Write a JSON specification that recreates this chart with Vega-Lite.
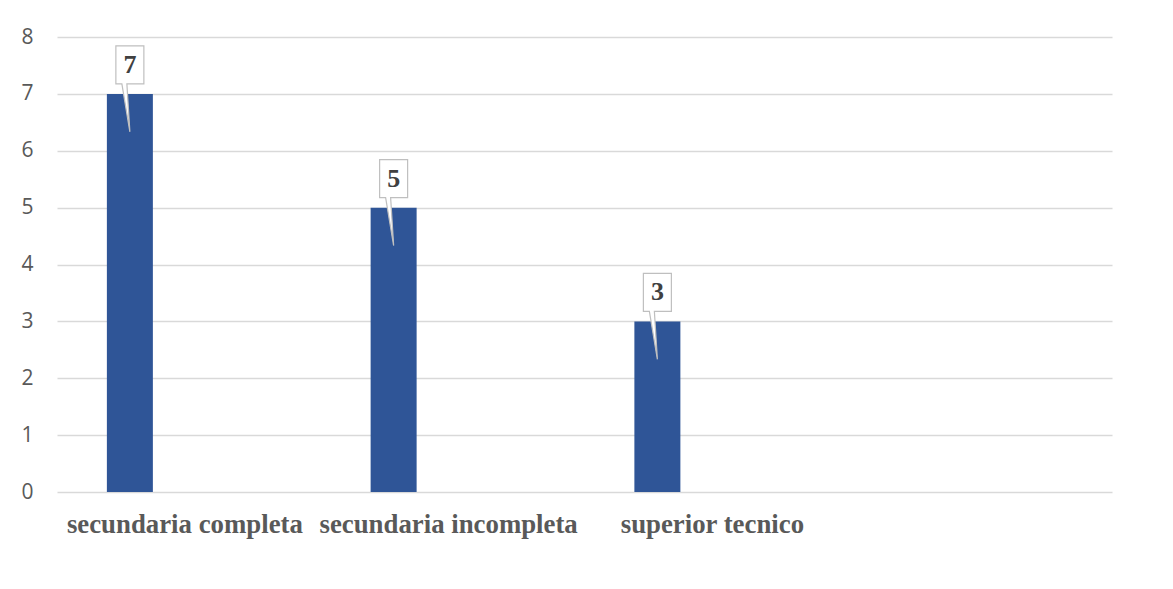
{
  "$schema": "https://vega.github.io/schema/vega-lite/v6.json",
  "autosize": "none",
  "width": 1055,
  "height": 455,
  "padding": {"left": 57, "top": 37, "right": 61, "bottom": 97},
  "background": "white",
  "config": {"view": {"stroke": null}},
  "data": {"values": [
    {"categoria": "secundaria completa", "valor": 7},
    {"categoria": "secundaria incompleta", "valor": 5},
    {"categoria": "superior tecnico", "valor": 3}
  ]},
  "encoding": {
    "x": {"field": "categoria", "type": "nominal", "sort": null,
      "scale": {"domain": ["secundaria completa", "secundaria incompleta", "superior tecnico", " "], "paddingInner": 0, "paddingOuter": 0},
      "axis": {"title": null, "labelAngle": 0, "domain": false, "ticks": false, "grid": false,
        "labelFont": "Liberation Serif", "labelFontWeight": "bold", "labelFontSize": 26.8, "labelColor": "#595959", "labelPadding": 19, "labelOffset": -4, "labelLimit": 400}},
    "y": {"field": "valor", "type": "quantitative",
      "scale": {"domain": [0, 8], "nice": false},
      "axis": {"title": null, "values": [0,1,2,3,4,5,6,7,8], "labelOverlap": false, "domain": false, "ticks": false,
        "grid": true, "gridColor": "#d9d9d9", "gridWidth": 1.5,
        "labelFont": "Open Sans", "labelFontSize": 21, "labelColor": "#595959", "labelPadding": 24}}
  },
  "layer": [
    {"mark": {"type": "bar", "width": 46, "xOffset": -59, "color": "#2f5597"}},
    {"mark": {"type": "point", "filled": true, "size": 4, "xOffset": -59, "fill": "white", "fillOpacity": 1, "stroke": "#bfbfbf", "strokeWidth": 1.2, "opacity": 1,
      "shape": "M-14,-48H14V-10H-3L0,38L-8,-10H-14Z"}},
    {"mark": {"type": "text", "xOffset": -59, "dy": -29, "baseline": "middle", "font": "Liberation Serif", "fontWeight": "bold", "fontSize": 26, "color": "#404040"},
      "encoding": {"text": {"field": "valor", "type": "quantitative"}}}
  ]
}
